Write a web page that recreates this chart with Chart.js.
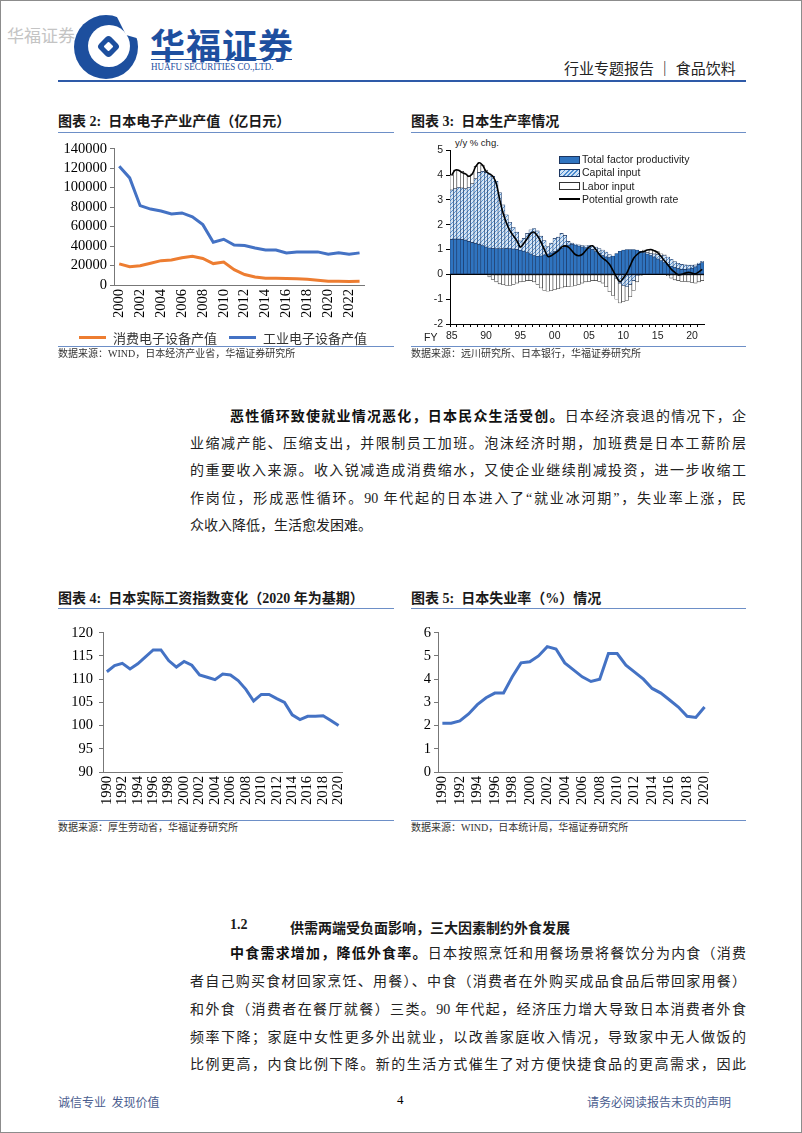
<!DOCTYPE html>
<html>
<head>
<meta charset="utf-8">
<script src="https://cdn.jsdelivr.net/npm/chart.js@4.4.0/dist/chart.umd.min.js"></script>
<style>
html, body { margin: 0; padding: 0; background: #fff; }
#page { position: relative; width: 800px; height: 1131px; border: 1px solid #8c8c8c; overflow: hidden;
        font-family: "Liberation Serif", "Noto Sans CJK SC", serif; color: #1a1a1a; }
.abs { position: absolute; white-space: nowrap; }
.title { font-size: 14px; font-weight: bold; line-height: 16px; }
.rule { position: absolute; height: 0; border-top: 1px solid #6d8fc7; }
.src { font-size: 10px; line-height: 12px; color: #333; }
.line { position: absolute; left: 189px; width: 556px; font-size: 14px; line-height: 18px;
        text-align: justify; text-align-last: justify; color: #222; }
.line.first { left: 229px; width: 516px; }
.line.last { text-align-last: left; }
b { font-weight: bold; color: #111; }
canvas { position: absolute; }
.lg { position: absolute; font-family: "Liberation Sans", Arial, sans-serif; font-size: 10.5px; line-height: 12px; color: #222; white-space: nowrap; }
.box { position: absolute; width: 19px; height: 6px; }
</style>
</head>
<body>
<div id="page">

  <!-- header -->
  <div class="abs" style="left:6px; top:21px; font-size:17px; color:#c4c4c4; font-family:'Noto Sans CJK SC';">华福证券</div>
  <svg class="abs" style="left:71px; top:12px;" width="68" height="68" viewBox="0 0 68 68">
    <circle cx="34" cy="34" r="32" fill="#1d4f9e"/>
    <circle cx="37" cy="33" r="21" fill="#fff"/>
    <path d="M44 2 L68 0 L68 26 L54 22 Z" fill="#fff"/>
    <rect x="28" y="25" width="17" height="17" rx="4" transform="rotate(45 36.5 33.5)" fill="#1d4f9e"/>
    <rect x="33" y="30" width="7" height="7" rx="1" transform="rotate(45 36.5 33.5)" fill="#fff"/>
  </svg>
  <div class="abs" style="left:149px; top:17px; font-size:35px; font-weight:bold; color:#1e4f9f; font-family:'Noto Sans CJK SC'; letter-spacing:1px;">华福证券</div>
  <div class="abs" style="left:150px; top:58px; width:141px; border-top:1px solid #1e4f9f;"></div>
  <div class="abs" style="left:150px; top:60px; font-size:10px; color:#1e4f9f; transform:scaleX(0.9); transform-origin:left top;">HUAFU SECURITIES CO.,LTD.</div>
  <div class="abs" style="left:563px; top:56px; font-size:15px; color:#222; font-family:'Noto Sans CJK SC';">行业专题报告 ｜ 食品饮料</div>
  <div class="abs" style="left:57px; top:79px; width:688px; border-top:2px solid #2e5aa8;"></div>

  <!-- chart 2 -->
  <div class="abs title" style="left:57px; top:113px;">图表 2:&nbsp; 日本电子产业产值（亿日元）</div>
  <div class="rule" style="left:57px; top:131px; width:336px;"></div>
  <canvas id="electronics" width="330" height="196" style="left:50px; top:136px; width:330px; height:196px;"></canvas>
  <div class="abs" style="left:78px; top:335px; width:27px; border-top:3px solid #ed7d31;"></div>
  <div class="abs" style="left:112px; top:327px; font-size:13px; color:#333; font-family:'Noto Sans CJK SC';">消费电子设备产值</div>
  <div class="abs" style="left:228px; top:335px; width:27px; border-top:3px solid #4472c4;"></div>
  <div class="abs" style="left:262px; top:327px; font-size:13px; color:#333; font-family:'Noto Sans CJK SC';">工业电子设备产值</div>
  <div class="rule" style="left:57px; top:345px; width:336px;"></div>
  <div class="abs src" style="left:57px; top:347px;">数据来源：WIND，日本经济产业省，华福证券研究所</div>

  <!-- chart 3 -->
  <div class="abs title" style="left:410px; top:113px;">图表 3:&nbsp; 日本生产率情况</div>
  <div class="rule" style="left:410px; top:131px; width:335px;"></div>
  <div class="abs" style="left:454px; top:136px; font-family:'Liberation Sans'; font-size:9.5px; color:#222;">y/y % chg.</div>
  <canvas id="productivity" width="300" height="205" style="left:405px; top:140px; width:300px; height:205px;"></canvas>
  <div class="abs" style="left:423px; top:330px; font-family:'Liberation Sans'; font-size:10.5px; color:#222;">FY</div>
  <div class="box" style="left:558px; top:155px; background:#2f74c0; border:1px solid #1b3560;"></div>
  <div class="lg" style="left:581px; top:152px;">Total factor productivity</div>
  <div class="box" style="left:558px; top:168px; background:repeating-linear-gradient(135deg,#4a8bd0 0 1.2px,#cfe2f5 1.2px 3px); border:1px solid #1b3560;"></div>
  <div class="lg" style="left:581px; top:165px;">Capital input</div>
  <div class="box" style="left:558px; top:181px; background:#fff; border:1px solid #333;"></div>
  <div class="lg" style="left:581px; top:179px;">Labor input</div>
  <div class="abs" style="left:558px; top:197px; width:21px; border-top:2px solid #000;"></div>
  <div class="lg" style="left:581px; top:192px;">Potential growth rate</div>
  <div class="rule" style="left:410px; top:345px; width:335px;"></div>
  <div class="abs src" style="left:410px; top:347px;">数据来源：远川研究所、日本银行，华福证券研究所</div>

  <!-- paragraph 1 -->
  <div class="line first" style="top:407px;"><b>恶性循环致使就业情况恶化，日本民众生活受创。</b>日本经济衰退的情况下，企</div>
  <div class="line" style="top:434px;">业缩减产能、压缩支出，并限制员工加班。泡沫经济时期，加班费是日本工薪阶层</div>
  <div class="line" style="top:461px;">的重要收入来源。收入锐减造成消费缩水，又使企业继续削减投资，进一步收缩工</div>
  <div class="line" style="top:489px;">作岗位，形成恶性循环。90 年代起的日本进入了“就业冰河期”，失业率上涨，民</div>
  <div class="line last" style="top:516px;">众收入降低，生活愈发困难。</div>

  <!-- chart 4 -->
  <div class="abs title" style="left:57px; top:590px;">图表 4:&nbsp; 日本实际工资指数变化（2020 年为基期）</div>
  <div class="rule" style="left:57px; top:607px; width:336px;"></div>
  <canvas id="wages" width="309" height="198" style="left:50px; top:617px; width:309px; height:198px;"></canvas>
  <div class="rule" style="left:57px; top:819px; width:336px;"></div>
  <div class="abs src" style="left:57px; top:821px;">数据来源：厚生劳动省，华福证券研究所</div>

  <!-- chart 5 -->
  <div class="abs title" style="left:410px; top:590px;">图表 5:&nbsp; 日本失业率（%）情况</div>
  <div class="rule" style="left:410px; top:607px; width:335px;"></div>
  <canvas id="unemployment" width="320" height="195" style="left:405px; top:620px; width:320px; height:195px;"></canvas>
  <div class="rule" style="left:410px; top:819px; width:335px;"></div>
  <div class="abs src" style="left:410px; top:821px;">数据来源：WIND，日本统计局，华福证券研究所</div>

  <!-- section 1.2 -->
  <div class="abs" style="left:229px; top:916px; font-size:14px; font-weight:bold;">1.2</div>
  <div class="abs" style="left:289px; top:916px; font-size:14px; font-weight:bold;">供需两端受负面影响，三大因素制约外食发展</div>
  <div class="line first" style="top:944px;"><b>中食需求增加，降低外食率。</b>日本按照烹饪和用餐场景将餐饮分为内食（消费</div>
  <div class="line" style="top:972px;">者自己购买食材回家烹饪、用餐）、中食（消费者在外购买成品食品后带回家用餐）</div>
  <div class="line" style="top:1000px;">和外食（消费者在餐厅就餐）三类。90 年代起，经济压力增大导致日本消费者外食</div>
  <div class="line" style="top:1028px;">频率下降；家庭中女性更多外出就业，以改善家庭收入情况，导致家中无人做饭的</div>
  <div class="line" style="top:1055px;">比例更高，内食比例下降。新的生活方式催生了对方便快捷食品的更高需求，因此</div>

  <!-- footer -->
  <div class="abs" style="left:57px; top:1092px; font-size:12px; color:#4a5d8f; font-family:'Noto Sans CJK SC';">诚信专业&nbsp;&nbsp;发现价值</div>
  <div class="abs" style="left:396px; top:1091px; font-size:13px; color:#000;">4</div>
  <div class="abs" style="left:586px; top:1092px; font-size:12px; color:#4a5d8f; font-family:'Noto Sans CJK SC';">请务必阅读报告末页的声明</div>
</div>

<script>
// 图表2 日本电子产业产值（亿日元）
var electronicsYears = ['2000','2001','2002','2003','2004','2005','2006','2007','2008','2009','2010','2011',
                        '2012','2013','2014','2015','2016','2017','2018','2019','2020','2021','2022','2023'];
var consumerElectronics = [21700,18700,19700,22300,25000,25600,28000,29500,27200,22000,23600,15800,
                           10800,8200,6900,6900,6600,6300,5900,4900,3900,3900,3600,3900];
var industrialElectronics = [122000,110000,81500,78000,76000,73000,74000,70000,62000,44000,47000,41000,
                             40500,38000,36000,36000,33000,34000,34000,34000,31500,33000,31500,33000];

// 图表3 日本生产率情况 (half-year, FY85 - FY21)
var halfYears = ['85a','85b','86a','86b','87a','87b','88a','88b','89a','89b','90a','90b','91a','91b',
                 '92a','92b','93a','93b','94a','94b','95a','95b','96a','96b','97a','97b','98a','98b',
                 '99a','99b','00a','00b','01a','01b','02a','02b','03a','03b','04a','04b','05a','05b',
                 '06a','06b','07a','07b','08a','08b','09a','09b','10a','10b','11a','11b','12a','12b',
                 '13a','13b','14a','14b','15a','15b','16a','16b','17a','17b','18a','18b','19a','19b',
                 '20a','20b','21a','21b'];
var fyTicks = ['85','90','95','00','05','10','15','20'];
var tfp = [1.40,1.42, 1.42,1.40, 1.38,1.33, 1.28,1.24, 1.20,1.15, 1.10,1.06, 1.04,1.03,
           1.03,1.03, 1.04,1.03, 1.02,1.00, 0.97,0.93, 0.88,0.82, 0.76,0.73, 0.74,0.78,
           0.82,0.86, 0.92,0.98, 1.05,1.12, 1.18,1.20, 1.18,1.14, 1.10,1.07, 1.04,1.00,
           0.92,0.84, 0.76,0.70, 0.68,0.74, 0.84,0.93, 0.98,1.00, 1.00,1.00, 0.98,0.93,
           0.88,0.82, 0.76,0.70, 0.62,0.55, 0.48,0.40, 0.33,0.27, 0.23,0.20, 0.20,0.22,
           0.25,0.30, 0.40,0.48];
var capitalInput = [2.00,2.03, 2.08,2.08, 2.07,2.17, 2.37,2.61, 2.90,3.00, 3.00,2.99, 2.91,2.72,
                    2.27,1.77, 1.36,1.07, 0.88,0.70, 0.38,0.52, 0.77,0.98, 1.09,1.02, 0.80,0.58,
                    0.30,0.40, 0.53,0.52, 0.60,0.45, 0.15,0.06, 0.04,0.05, 0.06,0.08, 0.12,0.15,
                    0.18,0.20, 0.22,0.20, 0.12,0.00, -0.15,-0.35, -0.45,-0.50, -0.40,-0.25, -0.05,0.00,
                    0.02,0.05, 0.08,0.12, 0.18,0.22, 0.28,0.30, 0.28,0.25, 0.22,0.20, 0.18,0.15,
                    0.12,0.08, 0.06,0.05];
var laborInput = [0.60,0.75, 0.70,0.67, 0.60,0.45, 0.40,0.50, 0.40,0.25, 0.10,-0.10, -0.20,-0.30,
                  -0.38,-0.42, -0.45,-0.45, -0.40,-0.35, -0.30,-0.28, -0.25,-0.25, -0.30,-0.40, -0.55,-0.65,
                  -0.68,-0.66, -0.62,-0.58, -0.55,-0.50, -0.50,-0.48, -0.45,-0.40, -0.35,-0.30, -0.28,-0.25,
                  -0.25,-0.28, -0.35,-0.50, -0.70,-0.85, -0.85,-0.80, -0.65,-0.55, -0.50,-0.40, -0.25,-0.05,
                  0.08,0.12, 0.14,0.14, 0.12,0.06, 0.03,-0.05, -0.15,-0.22, -0.25,-0.28, -0.28,-0.30,
                  -0.32,-0.35, -0.30,-0.25];
var potentialGrowth = [4.00,4.20, 4.20,4.10, 4.05,3.95, 4.05,4.35, 4.50,4.40, 4.15,4.05, 3.95,3.65,
                       3.00,2.45, 2.05,1.75, 1.55,1.35, 1.10,1.25, 1.45,1.65, 1.70,1.55, 1.30,1.00,
                       0.72,0.75, 0.85,0.95, 1.10,1.15, 1.10,0.95, 0.80,0.75, 0.80,0.95, 1.10,1.15,
                       1.00,0.80, 0.65,0.55, 0.40,0.15, -0.10,-0.30, -0.15,0.05, 0.35,0.65, 0.80,0.90,
                       0.92,0.98, 1.00,0.95, 0.88,0.72, 0.55,0.38, 0.20,0.08, -0.02,0.00, 0.05,0.08,
                       0.05,0.02, 0.10,0.20];

// 图表4 日本实际工资指数（2020=100）, 图表5 日本失业率（%）
var laborYears = ['1990','1991','1992','1993','1994','1995','1996','1997','1998','1999','2000','2001',
                  '2002','2003','2004','2005','2006','2007','2008','2009','2010','2011','2012','2013',
                  '2014','2015','2016','2017','2018','2019','2020'];
var realWageIndex = [111.6,112.9,113.4,112.2,113.3,114.8,116.3,116.3,114.0,112.6,113.8,113.0,
                     110.9,110.4,109.9,111.1,110.9,109.7,107.8,105.3,106.7,106.7,105.8,105.0,
                     102.3,101.3,102.0,102.0,102.1,101.1,100.0];
var unemploymentRate = [2.1,2.1,2.2,2.5,2.9,3.2,3.4,3.4,4.1,4.7,4.75,5.0,
                        5.4,5.3,4.7,4.4,4.1,3.9,4.0,5.1,5.1,4.6,4.3,4.0,
                        3.6,3.4,3.1,2.8,2.4,2.35,2.8];

var serifTicks = { family: 'Liberation Serif', size: 14.5 };

function everyOther(labels) {
    return function (value, index) {
        return index % 2 === 0 ? labels[index] : '';
    };
}

function lineOptions(yMin, yMax, yStep, yWidth, xHeight) {
    return {
        responsive: false,
        animation: false,
        devicePixelRatio: 1,
        layout: { padding: { top: 6, right: 2, left: 0, bottom: 0 } },
        plugins: { legend: { display: false }, tooltip: { enabled: false } },
        elements: { point: { radius: 0 }, line: { tension: 0, borderWidth: 3 } },
        scales: {
            x: {
                offset: true,
                grid: { display: false, drawTicks: false },
                border: { display: true, color: '#777', width: 1 },
                ticks: { autoSkip: false, minRotation: 90, maxRotation: 90, color: '#000', font: serifTicks, padding: 4 },
                afterFit: function (scale) { scale.height = xHeight; }
            },
            y: {
                min: yMin, max: yMax,
                grid: { drawOnChartArea: false, tickLength: 4, color: '#777' },
                border: { display: true, color: '#777', width: 1 },
                ticks: { stepSize: yStep, autoSkip: false, color: '#000', font: serifTicks, padding: 3,
                         callback: function (v) { return v; } },
                afterFit: function (scale) { scale.width = yWidth; }
            }
        }
    };
}

function plotElectronics() {
    var canvas = document.getElementById('electronics');
    var options = lineOptions(0, 140000, 20000, 63, 48);
    options.scales.x.ticks.callback = everyOther(electronicsYears);
    var config = {
        type: 'line',
        data: {
            labels: electronicsYears,
            datasets: [
                { label: '消费电子设备产值', data: consumerElectronics, borderColor: '#ed7d31' },
                { label: '工业电子设备产值', data: industrialElectronics, borderColor: '#4472c4' }
            ]
        },
        options: options
    };
    window.electronics = new Chart(canvas, config);
}

function plotWages() {
    var canvas = document.getElementById('wages');
    var options = lineOptions(90, 120, 5, 52, 44);
    options.scales.x.ticks.callback = everyOther(laborYears);
    options.scales.y.ticks.padding = 6;
    window.wages = new Chart(canvas, {
        type: 'line',
        data: { labels: laborYears, datasets: [{ label: '实际工资指数', data: realWageIndex, borderColor: '#4472c4' }] },
        options: options
    });
}

function plotUnemployment() {
    var canvas = document.getElementById('unemployment');
    var options = lineOptions(0, 6, 1, 32, 44);
    options.scales.x.ticks.callback = everyOther(laborYears);
    window.unemployment = new Chart(canvas, {
        type: 'line',
        data: { labels: laborYears, datasets: [{ label: '失业率', data: unemploymentRate, borderColor: '#4472c4' }] },
        options: options
    });
}

function hatchPattern() {
    var c = document.createElement('canvas');
    c.width = 4; c.height = 4;
    var g = c.getContext('2d');
    g.fillStyle = '#d6e6f7';
    g.fillRect(0, 0, 4, 4);
    g.strokeStyle = '#5b97d6';
    g.lineWidth = 1;
    g.beginPath();
    g.moveTo(0, 4); g.lineTo(4, 0);
    g.moveTo(-1, 1); g.lineTo(1, -1);
    g.moveTo(3, 5); g.lineTo(5, 3);
    g.stroke();
    return g.createPattern(c, 'repeat');
}

function plotProductivity() {
    var canvas = document.getElementById('productivity');
    var sans = { family: 'Liberation Sans', size: 10.5 };
    var config = {
        type: 'bar',
        data: {
            labels: halfYears,
            datasets: [
                { type: 'line', label: 'Potential growth rate', data: potentialGrowth, borderColor: '#000',
                  borderWidth: 1.6, pointRadius: 0, tension: 0.3, order: 0 },
                { label: 'Total factor productivity', data: tfp, backgroundColor: '#2f74c0',
                  borderColor: '#1b3560', borderWidth: 0.6, borderSkipped: false, order: 1 },
                { label: 'Capital input', data: capitalInput, backgroundColor: hatchPattern(),
                  borderColor: '#1b3560', borderWidth: 0.6, borderSkipped: false, order: 1 },
                { label: 'Labor input', data: laborInput, backgroundColor: '#ffffff',
                  borderColor: '#333', borderWidth: 0.6, borderSkipped: false, order: 1 }
            ]
        },
        options: {
            responsive: false,
            animation: false,
            devicePixelRatio: 1,
            layout: { padding: { top: 7, right: 2, left: 0, bottom: 0 } },
            datasets: { bar: { barPercentage: 1, categoryPercentage: 1 } },
            plugins: { legend: { display: false }, tooltip: { enabled: false } },
            scales: {
                x: {
                    stacked: true,
                    offset: true,
                    grid: { display: true, drawOnChartArea: false, tickLength: 3,
                            tickColor: function (ctx) { return ctx.index % 2 === 0 ? '#000' : 'rgba(0,0,0,0)'; } },
                    border: { color: '#000', width: 1 },
                    ticks: { autoSkip: false, maxRotation: 0, minRotation: 0, color: '#222', font: sans, padding: 3,
                             callback: function (v, i) { return i % 10 === 0 ? fyTicks[i / 10] : ''; } },
                    afterFit: function (scale) { scale.height = 22; }
                },
                y: {
                    stacked: true,
                    min: -2, max: 5,
                    grid: { tickLength: 4, tickColor: '#000',
                            color: function (ctx) { return ctx.tick && ctx.tick.value === 0 ? '#000' : 'rgba(0,0,0,0)'; } },
                    border: { color: '#000', width: 1 },
                    ticks: { stepSize: 1, color: '#222', font: sans, padding: 3 },
                    afterFit: function (scale) { scale.width = 44; }
                }
            }
        }
    };
    window.productivity = new Chart(canvas, config);
}

plotElectronics();
plotProductivity();
plotWages();
plotUnemployment();
</script>
</body>
</html>
